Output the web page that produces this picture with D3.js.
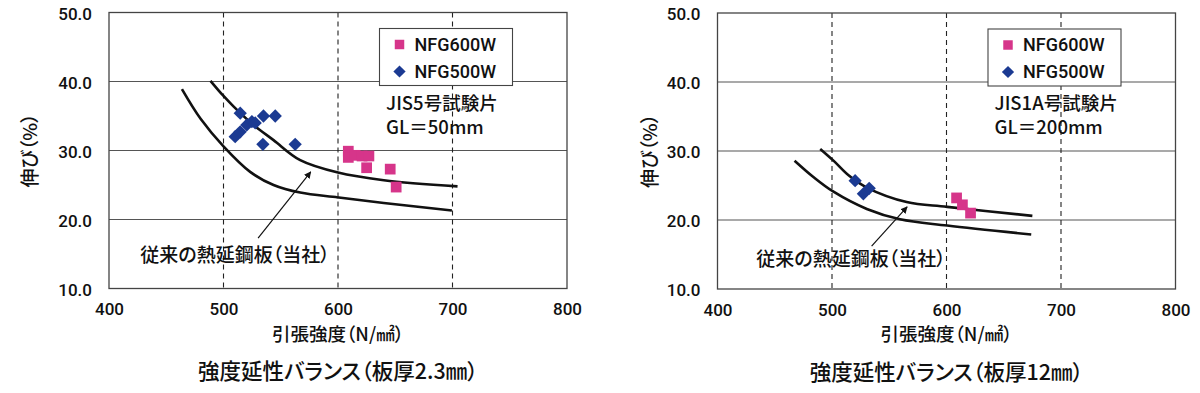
<!DOCTYPE html>
<html>
<head>
<meta charset="utf-8">
<script src="https://cdn.jsdelivr.net/npm/d3@7"></script>
<style>
	body { margin:0; background:#fff; }
	svg { display:block; }
	.tick text { font-family:Roboto,"Liberation Sans",sans-serif; font-weight:500; font-size:17px; fill:#111; }
	.jp { font-family:"Noto Sans CJK JP",sans-serif; font-weight:500; fill:#111; }
	.pa { font-feature-settings:"palt"; }
	.lg { font-family:Roboto,"Liberation Sans",sans-serif; font-weight:500; font-size:18px; fill:#111; }
</style>
</head>
<body>
<svg id="chart" width="1200" height="393"></svg>
<script>

var xTicks = [400,500,600,700,800];
var yTicks = [10,20,30,40,50];
var legendNames = ["NFG600W","NFG500W"];

// 板厚2.3mm : [引張強度, 伸び]
var thin600 = [[609,29.9],[609,29.0],[615,29.3],[621,29.2],[627,29.2],[625,27.5],[645.6,27.3],[650.8,24.7]];
var thin500 = [[514.6,35.4],[510.2,32.0],[514.6,32.7],[520.4,33.7],[524.8,34.2],[527.7,34.0],[534.9,35.0],[545.2,35.0],[534.4,30.9],[562.6,30.9]];
var thinNew = [[488.6,40.1],[500,37.9],[508.7,36.4],[526.2,33.7],[543.7,31.5],[567,28.6],[600,26.8],[640,25.7],[704.4,24.8]];
var thinOld = [[463.7,38.9],[480,34.6],[500,30.6],[523.3,26.9],[543.7,25.0],[567,23.9],[600,23.2],[640,22.4],[699.5,21.3]];

// 板厚12mm
var thick600 = [[608.8,23.2],[613.9,22.2],[621,21.0]];
var thick500 = [[520.2,25.7],[527.4,23.8],[532.5,24.6]];
var thickNew = [[489.7,30.3],[501.3,28.6],[515,26.4],[530.4,24.7],[565.2,22.6],[600.6,21.9],[675,20.6]];
var thickOld = [[467.3,28.6],[484,26.2],[501.3,24.1],[530.4,21.6],[559.4,20.1],[600.6,19.2],[674,17.9]];

var panels = [
	{left:109, top:12.5, sq:thin600, dm:thin500, curves:[thinNew,thinOld],
		spec:["JIS5号試験片","GL＝50mm"], title:"強度延性バランス（板厚2.3㎜）",
		arrow:[[530.2,17.3],[576.2,26.9]], note:[126,242.5], ylab:-79},
	{left:717.5, top:13, sq:thick600, dm:thick500, curves:[thickNew,thickOld],
		spec:["JIS1A号試験片","GL＝200mm"], title:"強度延性バランス（板厚12㎜）",
		arrow:[[534.6,16.2],[565.6,21.9]], note:[133.5,246], ylab:-67.5}
];

var colSq = "#d6358a", colDm = "#1b3a92";
var w = 458, h = 276;

var svg = d3.select("#chart");

svg.append("defs").append("marker")
		.attr("id","head")
		.attr("viewBox","0 0 10 10")
		.attr("refX",9).attr("refY",5)
		.attr("markerWidth",7).attr("markerHeight",7)
		.attr("markerUnits","userSpaceOnUse")
		.attr("orient","auto")
	.append("path")
		.attr("d","M0,0L10,5L0,10z")
		.attr("fill","#111");

var square = d3.symbol().type(d3.symbolSquare).size(115);
var diamond = d3.symbol().type(d3.symbolSquare).size(88);

panels.forEach(function(p) {
	var x = d3.scaleLinear().domain([400,800]).range([0,w]);
	var y = d3.scaleLinear().domain([10,50]).range([h,0]);
	var g = svg.append("g").attr("transform","translate(" + p.left + "," + p.top + ")");

	// grid
	g.append("g").selectAll("line")
			.data(yTicks.slice(1,-1))
		.enter().append("line")
			.attr("x1",0).attr("x2",w)
			.attr("y1",function(d) { return y(d); })
			.attr("y2",function(d) { return y(d); })
			.attr("stroke","#555").attr("stroke-width",1.1);
	g.append("g").selectAll("line")
			.data(xTicks.slice(1,-1))
		.enter().append("line")
			.attr("y1",0).attr("y2",h)
			.attr("x1",function(d) { return x(d); })
			.attr("x2",function(d) { return x(d); })
			.attr("stroke","#222").attr("stroke-width",1.1)
			.attr("stroke-dasharray","5,4");
	g.append("rect")
			.attr("width",w).attr("height",h)
			.attr("fill","none").attr("stroke","#444").attr("stroke-width",1.3);

	// axes
	var ax = g.append("g").attr("transform","translate(0," + h + ")")
			.call(d3.axisBottom(x).tickValues(xTicks).tickSize(0));
	ax.select(".domain").remove();
	ax.selectAll("text").attr("y",21).attr("dy","0.35em");

	var ay = g.append("g")
			.call(d3.axisLeft(y).tickValues(yTicks).tickSize(0).tickFormat(d3.format(".1f")));
	ay.select(".domain").remove();
	ay.selectAll("text").attr("x",-17).attr("dy","0.4em");

	// curves
	var line = d3.line()
			.x(function(d) { return x(d[0]); })
			.y(function(d) { return y(d[1]); })
			.curve(d3.curveCatmullRom.alpha(0.5));
	g.append("g").selectAll("path")
			.data(p.curves)
		.enter().append("path")
			.attr("d",line)
			.attr("fill","none").attr("stroke","#111").attr("stroke-width",2.6);

	// points
	g.append("g").selectAll("path")
			.data(p.dm)
		.enter().append("path")
			.attr("d",diamond)
			.attr("transform",function(d) { return "translate(" + x(d[0]) + "," + y(d[1]) + ") rotate(45)"; })
			.attr("fill",colDm);
	g.append("g").selectAll("path")
			.data(p.sq)
		.enter().append("path")
			.attr("d",square)
			.attr("transform",function(d) { return "translate(" + x(d[0]) + "," + y(d[1]) + ")"; })
			.attr("fill",colSq);

	// arrow + note
	g.append("line")
			.attr("x1",x(p.arrow[0][0])).attr("y1",y(p.arrow[0][1]))
			.attr("x2",x(p.arrow[1][0])).attr("y2",y(p.arrow[1][1]))
			.attr("stroke","#111").attr("stroke-width",1.2)
			.attr("marker-end","url(#head)");
	g.append("text")
			.attr("class","jp pa")
			.attr("x",p.note[0]).attr("y",p.note[1])
			.attr("text-anchor","middle").attr("dy","0.35em")
			.style("font-size","19px")
			.text("従来の熱延鋼板（当社）");

	// legend
	var lg = g.append("g").attr("transform","translate(270.5,16)");
	lg.append("rect")
			.attr("width",133).attr("height",57)
			.attr("fill","#fff").attr("stroke","#444").attr("stroke-width",1.1);
	lg.append("path").attr("d",d3.symbol().type(d3.symbolSquare).size(90))
			.attr("transform","translate(20,16)").attr("fill",colSq);
	lg.append("path").attr("d",d3.symbol().type(d3.symbolSquare).size(75))
			.attr("transform","translate(20,43) rotate(45)").attr("fill",colDm);
	lg.selectAll("text.lg")
			.data(legendNames)
		.enter().append("text")
			.attr("class","lg")
			.attr("x",35)
			.attr("y",function(d,i) { return 16 + i * 27; })
			.attr("dy","0.36em")
			.text(function(d) { return d; });

	// spec text
	g.selectAll("text.spec")
			.data(p.spec)
		.enter().append("text")
			.attr("class","jp spec")
			.attr("x",277)
			.attr("y",function(d,i) { return 91 + i * 24; })
			.attr("dy","0.35em")
			.style("font-size","18.5px")
			.text(function(d) { return d; });

	// titles
	g.append("text")
			.attr("class","jp pa")
			.attr("transform","translate(" + p.ylab + "," + (h/2) + ") rotate(-90)")
			.attr("text-anchor","middle").attr("dy","0.35em")
			.style("font-size","19px")
			.text("伸び（%）");
	g.append("text")
			.attr("class","jp pa")
			.attr("x",w/2).attr("y",322)
			.attr("text-anchor","middle").attr("dy","0.35em")
			.style("font-size","18.5px")
			.text("引張強度（N/㎟）");
	g.append("text")
			.attr("class","jp pa")
			.attr("x",w/2).attr("y",359)
			.attr("text-anchor","middle").attr("dy","0.35em")
			.style("font-size","21.5px")
			.text(p.title);
});

</script>
</body>
</html>
